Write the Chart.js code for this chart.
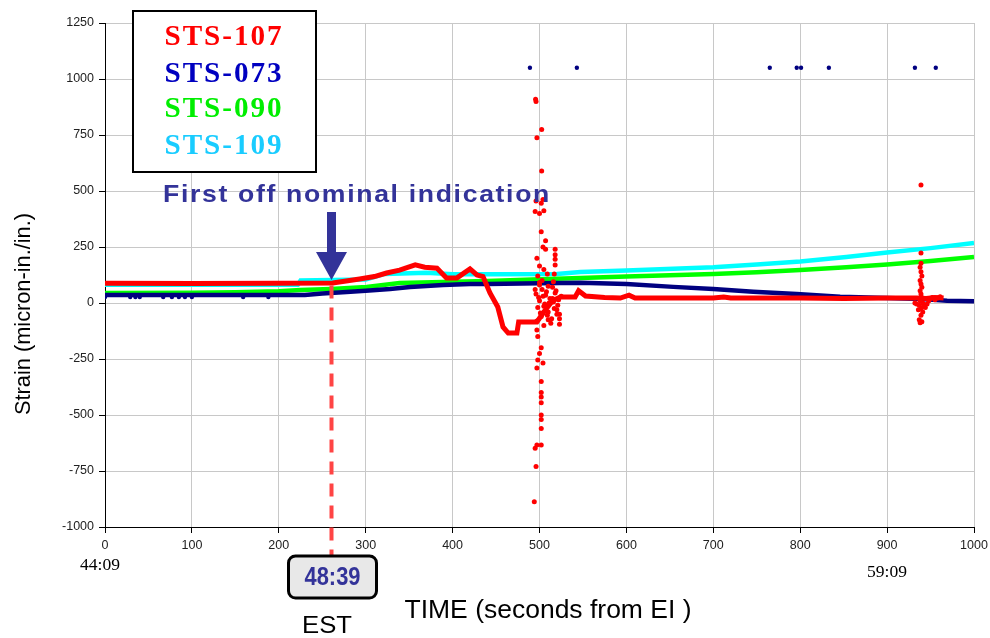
<!DOCTYPE html>
<html>
<head>
<meta charset="utf-8">
<script src="https://cdn.jsdelivr.net/npm/chart.js@4.4.1/dist/chart.umd.min.js"></script>
<style>
  html,body{margin:0;padding:0;background:#fff;}
  #c{display:block;}
</style>
</head>
<body>
<canvas id="c" width="990" height="638"></canvas>
<script>
// --- data: [time (s from EI), strain (micron-in./in.)] ---
const xTicks = [0, 100, 200, 300, 400, 500, 600, 700, 800, 900, 1000];
const yTicks = [-1000, -750, -500, -250, 0, 250, 500, 750, 1000, 1250];
const seriesNames = ['STS-107', 'STS-073', 'STS-090', 'STS-109'];

const sts107 = [[0,88],[100,87],[200,88],[262,89],[293,107],[310,118],[324,134],[339,147],[357,170],[368,160],
  [382,155],[393,112],[405,112],[420,152],[428,125],[435,118],[443,45],[452,-18],[458,-107],[464,-134],[474,-134],
  [476,-85],[497,-85],[505,-40],[515,10],[524,27],[541,27],[545,55],[553,31],[575,25],[593,22],[603,35],[610,22],
  [700,22],[712,27],[720,22],[800,22],[850,20],[900,22],[934,22],[945,20],[955,25],[965,22]];
const sts107Spikes = [[495.5,910],[496,900],[502.5,775],[497,738],[502.5,589],[496,455],[495,408],[502,445],[504,462],
  [500,400],[505,412],[502,318],[507,278],[504,250],[507,240],[497,200],[500,165],[498,120],[500,92],[518,240],[518,215],
  [518,195],[518,170],[517,130],[516,95],[505,150],[509,130],[503,100],[510,75],[495,60],
  [496,40],[498,-20],[500,10],[502,-60],[504,30],[506,-5],[508,50],[510,-40],[512,20],[514,-70],[516,5],[518,45],
  [520,-30],[522,15],[497,-80],[499,25],[501,-45],[503,60],[505,-15],[507,35],[509,-55],[511,0],[513,-90],[515,20],
  [517,-25],[519,55],[521,-10],[525,30],[500,80],[505,-100],[510,-75],[515,70],[520,-50],
  [497,-120],[498,-150],[500,-225],[498,-255],[497,-290],[502,-200],[504,-268],[502,-351],[502,-400],[502,-420],
  [502,-445],[502,-500],[502,-520],[502,-560],[497,-634],[495,-648],[502,-634],[496,-730],[494,-887],
  [523,-50],[523,-70],[523,-95],
  [939,527],[939,223],[939,178],[938,160],[939,140],[940,120],[938,100],[939,85],[940,70],[938,55],[939,40],[940,25],
  [938,10],[941,0],[937,-10],[942,-15],[939,-25],[936,-30],[944,-20],[946,-5],[948,10],[950,20],[952,25],[955,15],
  [958,22],[961,28],[934,-5],[932,0],[941,-40],[939,-55],[937,-75],[938,-88],[940,-84]];
const sts073 = [[0,36],[230,36],[250,42],[278,49],[300,55],[328,62],[351,71],[389,80],[420,85],[440,85],[500,88],
  [547,90],[600,85],[654,72],[700,62],[746,50],[796,40],[846,28],[900,22],[940,18],[969,10],[1000,8]];
const sts073Dots = [[0,27],[29,27],[35,27],[40,27],[67,27],[77,27],[85,27],[92,27],[100,27],[159,27],[188,27],
  [489,1050],[543,1050],[765,1050],[796,1050],[801,1050],[833,1050],[932,1050],[956,1050]];
const sts090 = [[0,45],[100,46],[150,48],[200,52],[225,58],[260,63],[301,71],[339,89],[389,94],[440,98],[492,105],
  [547,112],[600,118],[700,130],[750,137],[800,147],[853,160],[900,172],[950,188],[1000,205]];
const sts109 = [[0,82],[222,82],[225,100],[300,105],[322,130],[370,135],[400,128],[450,128],[520,130],[547,138],
  [600,145],[700,160],[750,172],[800,185],[853,205],[900,225],[950,245],[1000,268]];

const eventTime = 260;

// colours
const RED = '#ff0000', NAVY = '#000080', GREEN = '#00ff00', CYAN = '#00ffff';
const NOTE = '#333399';
const legendColors = ['#ff0000', '#0000c0', '#00ee00', '#19ccff'];

const pts = a => a.map(p => ({x: p[0], y: p[1]}));

function fitText(ctx, str, cx, cy, font, color, width, angle){
  ctx.save();
  ctx.font = font; ctx.fillStyle = color;
  ctx.textAlign = 'center'; ctx.textBaseline = 'middle';
  ctx.translate(cx, cy);
  if(angle) ctx.rotate(angle);
  const m = ctx.measureText(str).width;
  if(width) ctx.scale(width / m, 1);
  ctx.fillText(str, 0, 0);
  ctx.restore();
}

const annot = {
  id: 'annot',
  beforeDraw(chart){
    const ctx = chart.ctx;
    ctx.save(); ctx.fillStyle = '#fff'; ctx.fillRect(0, 0, chart.width, chart.height); ctx.restore();
  },
  afterDraw(chart){
    const ctx = chart.ctx, xs = chart.scales.x, ys = chart.scales.y;
    const ex = Math.round(xs.getPixelForValue(eventTime)) + 0.5;

    // dashed marker line
    ctx.save();
    ctx.strokeStyle = '#ff4444'; ctx.lineWidth = 4; ctx.setLineDash([13, 9]);
    ctx.beginPath(); ctx.moveTo(ex, ys.getPixelForValue(78)); ctx.lineTo(ex, 556); ctx.stroke();
    ctx.restore();

    // arrow
    const tip = ys.getPixelForValue(103);
    ctx.save();
    ctx.fillStyle = NOTE;
    ctx.beginPath();
    ctx.moveTo(ex - 4.5, tip - 68); ctx.lineTo(ex + 4.5, tip - 68);
    ctx.lineTo(ex + 4.5, tip - 28); ctx.lineTo(ex + 15.5, tip - 28);
    ctx.lineTo(ex, tip); ctx.lineTo(ex - 15.5, tip - 28);
    ctx.lineTo(ex - 4.5, tip - 28); ctx.closePath(); ctx.fill();
    ctx.restore();
    ctx.save(); ctx.letterSpacing = '1.5px';
    fitText(ctx, 'First off nominal indication', 357, 195, 'bold 24px "Liberation Sans", Arial, sans-serif', NOTE, 388);
    ctx.restore();

    // time box
    ctx.save();
    ctx.fillStyle = '#e8e8e8'; ctx.strokeStyle = '#000'; ctx.lineWidth = 3;
    ctx.beginPath(); ctx.roundRect(ex - 43, 556, 88, 42, 7); ctx.fill(); ctx.stroke();
    ctx.restore();
    fitText(ctx, '48:39', ex + 1, 578, 'bold 25px "Liberation Sans", Arial, sans-serif', NOTE, 56);
    fitText(ctx, 'EST', 327, 626, '24px "Liberation Sans", Arial, sans-serif', '#000', 50);

    // clock labels
    fitText(ctx, '44:09', 100, 566, '16px "Liberation Serif", "Times New Roman", serif', '#000', 40);
    fitText(ctx, '59:09', 887, 573, '16px "Liberation Serif", "Times New Roman", serif', '#000', 40);

    // axis titles
    fitText(ctx, 'TIME (seconds from EI )', 548, 611, '25px "Liberation Sans", Arial, sans-serif', '#000', 287);
    fitText(ctx, 'Strain (micron-in./in.)', 24, 314, '22px "Liberation Sans", Arial, sans-serif', '#000', 202, -Math.PI / 2);

    // legend box
    ctx.save();
    ctx.fillStyle = '#fff'; ctx.strokeStyle = '#000'; ctx.lineWidth = 2;
    ctx.fillRect(133, 11, 183, 161); ctx.strokeRect(133, 11, 183, 161);
    ctx.restore();
    const rows = [37, 74, 109, 146];
    ctx.save(); ctx.letterSpacing = '2px';
    seriesNames.forEach((n, i) => {
      fitText(ctx, n, 224, rows[i], 'bold 30px "Liberation Serif", "Times New Roman", serif', legendColors[i], 119);
    });
    ctx.restore();
  }
};

const line = (data, color, w) => ({
  data: pts(data), showLine: true, borderColor: color, borderWidth: w,
  pointRadius: 0, tension: 0, fill: false
});
const dots = (data, color, r) => ({
  data: pts(data), showLine: false, pointRadius: r, pointBackgroundColor: color,
  pointBorderWidth: 0, borderColor: color
});

const tickFont = {family: '"Liberation Sans", Arial, sans-serif', size: 12.5};

new Chart(document.getElementById('c'), {
  type: 'scatter',
  data: {
    // dataset 0 is painted on top
    datasets: [
      dots(sts107Spikes, RED, 2.5),
      line(sts107, RED, 5),
      dots(sts073Dots, NAVY, 2.2),
      line(sts073, NAVY, 4.5),
      line(sts090, GREEN, 4.5),
      line(sts109, CYAN, 4.5)
    ]
  },
  options: {
    responsive: false,
    animation: false,
    events: [],
    layout: {padding: {left: 0, right: 16, top: 23, bottom: 0}},
    plugins: {legend: {display: false}, tooltip: {enabled: false}},
    scales: {
      x: {
        type: 'linear', min: xTicks[0], max: xTicks[xTicks.length - 1],
        afterFit: s => { s.height = 111; s.paddingRight = 0; },
        afterBuildTicks: s => { s.ticks = xTicks.map(v => ({value: v})); },
        grid: {color: '#c8c8c8', tickColor: '#000', tickLength: 6},
        border: {color: '#000', width: 1},
        ticks: {color: '#222', padding: 5, font: tickFont, maxRotation: 0, callback: v => String(v)}
      },
      y: {
        type: 'linear', min: yTicks[0], max: yTicks[yTicks.length - 1],
        afterFit: s => { s.width = 105; },
        afterBuildTicks: s => { s.ticks = yTicks.map(v => ({value: v})); },
        grid: {color: '#c8c8c8', tickColor: '#000', tickLength: 6},
        border: {color: '#000', width: 1},
        ticks: {color: '#222', padding: 5, font: tickFont, callback: v => String(v)}
      }
    }
  },
  plugins: [annot]
});
</script>
</body>
</html>
